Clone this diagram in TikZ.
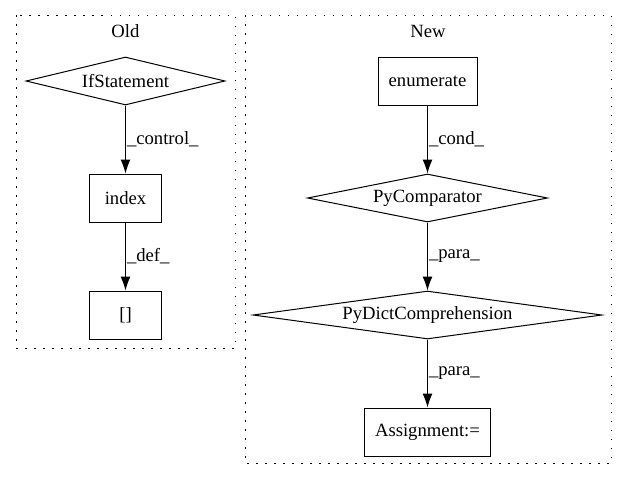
\documentclass[tikz,border=0pt]{standalone}
\usepackage{fontspec}
\setmainfont{Liberation Serif}
\usetikzlibrary{shapes.geometric, arrows.meta, positioning}
\tikzstyle{block} = [rectangle, draw, fill=white, line width=1pt,
    minimum height=48pt, inner sep=0pt]
\tikzstyle{cond} = [diamond, draw, fill=white, aspect=8, line width=1pt,
    minimum height=48pt, inner sep=0pt]
\tikzstyle{line} = [draw, line width=1pt, -{Latex[length=14pt, width=10pt]}]
\tikzstyle{cluster} = [draw, line width=1pt, dash pattern=on 1.5pt off 7.5pt]
\tikzstyle{lbl} = [right, inner sep=1pt]

\begin{document}
\begin{tikzpicture}[x=1pt, y=1pt, node distance=68pt, font=\fontsize{18.67}{22}\selectfont]
      \useasboundingbox (0,0) rectangle (627,-480);
      % Clusters
      \draw [cluster] (16,-15) rectangle (235,-348);
      \draw [cluster] (245,-15) rectangle (611,-463);
      \node (old-title) at (125.5,-31) {Old};
      \node (new-title) at (428,-31) {New};
      % Old
      \node [cond, minimum width=199pt] (ifstatement) at (125.5,-81) {IfStatement};
      \node [block, minimum width=72pt, below= of ifstatement] (index) {index};
      \node [block, minimum width=72pt, below= of index] (subscript) {[]};
      % New
      \node [block, minimum width=99pt] (enumerate) at (427.5,-81) {enumerate};
      \node [cond, minimum width=239pt, below= of enumerate] (pycomparator) {PyComparator};
      \node [cond, minimum width=349pt, below= of pycomparator] (pydictcomp) {PyDictComprehension};
      \node [block, minimum width=126pt, below= of pydictcomp] (assignment) {Assignment:=};
      % Draw edges
      \path [line] (ifstatement) -- node [lbl] {\_control\_} (index);
      \path [line] (index) -- node [lbl] {\_def\_} (subscript);
      \path [line] (enumerate) -- node [lbl] {\_cond\_} (pycomparator);
      \path [line] (pycomparator) -- node [lbl] {\_para\_} (pydictcomp);
      \path [line] (pydictcomp) -- node [lbl] {\_para\_} (assignment);
  \end{tikzpicture}
\end{document}
